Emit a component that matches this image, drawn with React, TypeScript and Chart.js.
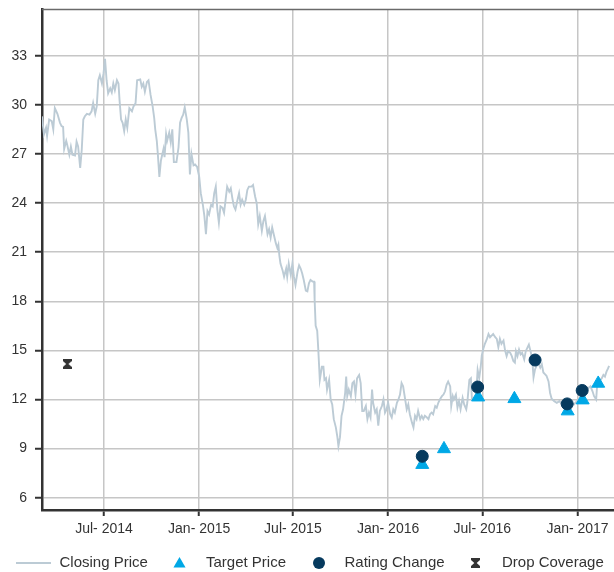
import { useEffect, useRef } from 'react';
import { Chart, registerables } from 'chart.js';

Chart.register(...registerables);

// x values are days counted from 2014-01-01
const xTickDays = [181, 365, 546, 730, 912, 1096];
const xTickLabels = ['Jul- 2014', 'Jan- 2015', 'Jul- 2015', 'Jan- 2016', 'Jul- 2016', 'Jan- 2017'];
const yTicks = [6, 9, 12, 15, 18, 21, 24, 27, 30, 33];
const seriesNames = ['Closing Price', 'Target Price', 'Rating Change', 'Drop Coverage'];

const closingPrice: [number, number][] = [
  [61,29.3],[65,28.2],[69,28.6],[71,28.1],[75,29.1],[80,29.0],[83,28.5],[86,29.8],[91,29.45],[96,28.9],[99,28.7],[102,28.65],[104,27.3],[108,27.8],[110,27.55],[114,26.95],[117,27.45],[120,26.95],[125,26.9],[128,27.75],[131,27.45],[135,26.15],[138,27.25],[141,29.1],[144,29.3],[148,29.45],[153,29.4],[157,29.6],[160,30.1],[164,29.45],[167,29.9],[170,31.5],[173,31.8],[177,31.3],[180,31.9],[183,32.8],[186,31.5],[189,30.7],[193,31.0],[196,30.75],[199,31.3],[202,30.9],[206,31.5],[209,31.3],[211,30.3],[214,29.1],[217,28.9],[220,28.4],[223,29.1],[226,28.6],[230,29.8],[235,29.6],[238,29.9],[242,30.1],[245,31.5],[251,31.55],[254,31.1],[257,31.3],[260,30.8],[264,31.4],[267,31.5],[271,30.6],[275,29.9],[278,29.2],[280,28.5],[283,27.8],[285,27.0],[288,25.6],[291,26.6],[296,27.3],[298,26.8],[301,28.2],[303,27.8],[307,28.3],[310,27.7],[313,28.5],[316,26.5],[321,26.5],[325,27.4],[328,28.9],[331,29.2],[334,29.4],[337,29.85],[341,29.1],[344,28.3],[347,25.75],[350,27.0],[354,26.3],[357,26.35],[361,26.2],[365,25.6],[368,24.6],[372,23.9],[375,23.2],[378,22.1],[381,23.5],[384,23.3],[388,23.9],[391,23.8],[394,24.6],[397,25.0],[400,23.6],[403,22.8],[406,23.8],[410,23.7],[413,23.4],[416,24.2],[419,25.0],[423,24.7],[426,24.9],[429,24.3],[432,23.8],[435,23.6],[439,24.2],[442,24.6],[445,23.9],[448,24.2],[452,23.9],[455,24.2],[458,24.8],[461,25.0],[466,25.0],[469,25.1],[473,24.4],[476,24.0],[479,22.7],[482,23.2],[486,22.3],[489,22.9],[492,23.2],[497,22.1],[500,22.4],[503,21.9],[506,22.5],[510,21.95],[513,21.55],[516,21.25],[518,21.45],[520,20.75],[522,20.3],[526,19.9],[529,19.5],[533,20.0],[535,19.5],[538,20.3],[542,19.6],[545,20.3],[548,19.5],[551,19.0],[555,19.8],[558,20.2],[561,20.0],[564,19.7],[567,19.3],[571,18.65],[574,18.6],[577,19.1],[580,19.3],[584,19.2],[587,19.2],[588,18.1],[590,16.5],[593,16.2],[595,15.1],[598,13.2],[602,14.0],[605,14.0],[607,13.2],[610,13.3],[612,12.6],[616,13.2],[619,12.0],[622,11.7],[625,10.8],[629,10.3],[632,9.7],[634,9.15],[637,9.7],[640,11.0],[643,11.4],[647,12.4],[649,13.4],[651,12.2],[654,12.6],[658,12.2],[661,13.0],[664,13.1],[667,12.3],[670,13.3],[674,13.5],[677,13.0],[680,11.3],[683,11.3],[687,11.6],[690,10.8],[693,11.2],[696,10.9],[699,12.6],[701,11.8],[705,11.2],[708,11.4],[711,10.4],[714,11.3],[718,11.6],[721,12.0],[724,11.2],[727,11.4],[730,11.8],[734,11.1],[737,10.9],[740,11.4],[743,11.2],[747,11.8],[750,12.0],[753,12.3],[756,13.0],[759,12.8],[763,12.0],[766,11.4],[769,11.7],[772,11.1],[776,10.6],[779,10.3],[782,11.0],[785,10.8],[788,11.3],[792,10.8],[795,11.0],[798,10.8],[801,11.0],[805,10.9],[808,10.8],[811,11.1],[814,11.2],[817,11.1],[821,11.6],[824,11.5],[827,11.8],[830,12.0],[834,12.2],[837,12.3],[840,12.5],[843,12.9],[846,13.1],[850,12.8],[852,11.6],[855,12.2],[857,12.0],[861,12.3],[864,11.5],[867,11.9],[870,11.4],[874,12.1],[877,11.7],[881,11.4],[883,11.8],[887,13.2],[890,13.3],[892,12.0],[896,12.1],[900,12.3],[903,13.8],[906,13.3],[909,14.0],[911,14.7],[914,15.1],[917,15.4],[921,15.7],[924,16.0],[927,15.8],[930,15.9],[933,16.0],[937,15.8],[940,15.7],[943,15.2],[946,15.7],[949,15.4],[953,15.6],[956,15.0],[959,14.65],[962,14.95],[966,14.85],[969,14.65],[972,14.35],[975,14.25],[977,14.95],[980,14.65],[983,15.05],[986,14.75],[989,14.85],[993,14.45],[996,14.95],[999,15.15],[1002,15.35],[1006,14.85],[1009,14.25],[1011,13.35],[1014,13.85],[1017,14.05],[1020,14.25],[1024,13.95],[1027,14.15],[1030,13.65],[1033,13.55],[1036,13.45],[1040,13.1],[1043,12.4],[1046,12.05],[1051,11.9],[1056,11.8],[1061,11.9],[1066,11.7],[1070,11.85],[1075,11.8],[1080,11.7],[1085,11.8],[1089,11.7],[1095,11.9],[1100,12.1],[1104,12.2],[1109,12.3],[1112,12.5],[1117,12.7],[1121,12.8],[1125,12.5],[1128,12.2],[1132,12.0],[1134,12.9],[1138,13.1],[1143,13.3],[1146,13.5],[1149,13.4],[1152,13.7],[1155,13.9],[1157,14.05]
];
const targetPrice: [number, number][] = [[796, 8.02], [838, 8.98], [904, 12.14], [974, 12.04], [1077, 11.29], [1106, 11.96], [1136, 12.98]];
const ratingChange: [number, number][] = [[796, 8.53], [903, 12.76], [1014, 14.41], [1076, 11.73], [1105, 12.55]];
const dropCoverage: [number, number][] = [[110, 14.17]];

const FONT = "'Liberation Sans', Arial, sans-serif";
const TEXT = '#333333';
const LINE_COLOR = '#bccbd5';
const TRI_COLOR = '#00a8e6';
const DOT_COLOR = '#063a5e';
const X_COLOR = '#333333';
const GRID = '#c6c6c6';
const AXIS = '#333333';

function makeHourglass(color: string) {
  const c = document.createElement('canvas');
  const w = 9, h = 10;
  c.width = w; c.height = h;
  const g = c.getContext('2d')!;
  g.fillStyle = color;
  g.beginPath();
  g.moveTo(0, 0); g.lineTo(w, 0); g.lineTo(w, 2);
  g.lineTo(w / 2 + 1.2, h / 2);
  g.lineTo(w, h - 2); g.lineTo(w, h); g.lineTo(0, h); g.lineTo(0, h - 2);
  g.lineTo(w / 2 - 1.2, h / 2);
  g.lineTo(0, 2);
  g.closePath();
  g.fill();
  return c;
}

const toXY = (arr: [number, number][]) => arr.map(([x, y]) => ({ x, y }));

export default function App() {
  const ref = useRef<HTMLCanvasElement>(null);

  useEffect(() => {
    if (!ref.current) return;
    const hourglass = makeHourglass(X_COLOR);

    const frame = {
      id: 'frameAndLegend',
      afterDraw(chart: any) {
        const ctx = chart.ctx as CanvasRenderingContext2D;
        const a = chart.chartArea;
        ctx.save();
        ctx.strokeStyle = '#6a6a6a';
        ctx.lineWidth = 1.5;
        ctx.beginPath();
        ctx.moveTo(a.left, a.top + 0.5);
        ctx.lineTo(a.right, a.top + 0.5);
        ctx.stroke();

        const y = 563;
        ctx.font = `15px ${FONT}`;
        ctx.fillStyle = TEXT;
        ctx.textBaseline = 'middle';
        ctx.textAlign = 'left';
        ctx.strokeStyle = LINE_COLOR;
        ctx.lineWidth = 2;
        ctx.beginPath();
        ctx.moveTo(16, y);
        ctx.lineTo(51, y);
        ctx.stroke();
        ctx.fillText(seriesNames[0], 59.5, y);

        const r = 7;
        const tx = 179.5, ty = y + 1;
        ctx.fillStyle = TRI_COLOR;
        ctx.beginPath();
        ctx.moveTo(tx, ty - r);
        ctx.lineTo(tx + r * Math.sin(2 * Math.PI / 3), ty + r * 0.5);
        ctx.lineTo(tx - r * Math.sin(2 * Math.PI / 3), ty + r * 0.5);
        ctx.closePath();
        ctx.fill();
        ctx.fillStyle = TEXT;
        ctx.fillText(seriesNames[1], 206, y);

        ctx.fillStyle = DOT_COLOR;
        ctx.beginPath();
        ctx.arc(319, y, 6, 0, Math.PI * 2);
        ctx.fill();
        ctx.fillStyle = TEXT;
        ctx.fillText(seriesNames[2], 344.5, y);

        ctx.drawImage(hourglass, 475.5 - hourglass.width / 2, y - hourglass.height / 2);
        ctx.fillText(seriesNames[3], 502, y);
        ctx.restore();
      },
    };

    const chart = new Chart(ref.current, {
      type: 'scatter',
      data: {
        datasets: [
          {
            label: seriesNames[0],
            data: toXY(closingPrice),
            showLine: true,
            borderColor: LINE_COLOR,
            backgroundColor: LINE_COLOR,
            borderWidth: 1.9,
            pointRadius: 0,
            tension: 0,
            order: 4,
          },
          {
            label: seriesNames[1],
            data: toXY(targetPrice),
            pointStyle: 'triangle',
            pointRadius: 7.5,
            backgroundColor: TRI_COLOR,
            borderColor: TRI_COLOR,
            borderWidth: 1,
            order: 2,
          },
          {
            label: seriesNames[2],
            data: toXY(ratingChange),
            pointStyle: 'circle',
            pointRadius: 6,
            backgroundColor: DOT_COLOR,
            borderColor: DOT_COLOR,
            borderWidth: 1,
            order: 1,
          },
          {
            label: seriesNames[3],
            data: toXY(dropCoverage),
            pointStyle: hourglass as any,
            pointRadius: 5,
            backgroundColor: X_COLOR,
            borderColor: X_COLOR,
            order: 3,
          },
        ],
      },
      options: {
        animation: false,
        responsive: false,
        events: [],
        layout: { autoPadding: false, padding: { top: 9, right: 0, bottom: 0, left: 0 } },
        plugins: {
          legend: { display: false },
          tooltip: { enabled: false },
        },
        scales: {
          x: {
            type: 'linear',
            min: 61.2,
            max: 1166.5,
            afterBuildTicks: (s: any) => {
              s.ticks = xTickDays.map((v) => ({ value: v }));
            },
            afterFit: (s: any) => {
              s.height = 62;
              s.paddingLeft = 0;
              s.paddingRight = 0;
            },
            ticks: {
              autoSkip: false,
              maxRotation: 0,
              padding: 5,
              color: TEXT,
              font: { family: FONT, size: 14 },
              callback: (v: any) => xTickLabels[xTickDays.indexOf(Number(v))] ?? '',
            },
            grid: { color: GRID, lineWidth: 1.5, tickColor: AXIS, tickWidth: 2, tickLength: 6 },
            border: { color: AXIS, width: 2.5 },
          },
          y: {
            type: 'linear',
            min: 5.25,
            max: 35.85,
            afterBuildTicks: (s: any) => {
              s.ticks = yTicks.map((v) => ({ value: v }));
            },
            afterFit: (s: any) => {
              s.width = 42;
              s.paddingTop = 0;
              s.paddingBottom = 0;
            },
            ticks: {
              padding: 8,
              color: TEXT,
              font: { family: FONT, size: 14 },
              callback: (v: any) => String(v),
            },
            grid: { color: GRID, lineWidth: 1.5, tickColor: AXIS, tickWidth: 2, tickLength: 7 },
            border: { color: AXIS, width: 2.5 },
          },
        },
      },
      plugins: [frame],
    });
    return () => chart.destroy();
  }, []);

  return (
    <div style={{ position: 'absolute', left: 0, top: 0, width: 614, height: 572, background: '#fff' }}>
      <canvas ref={ref} width={614} height={572} />
    </div>
  );
}
